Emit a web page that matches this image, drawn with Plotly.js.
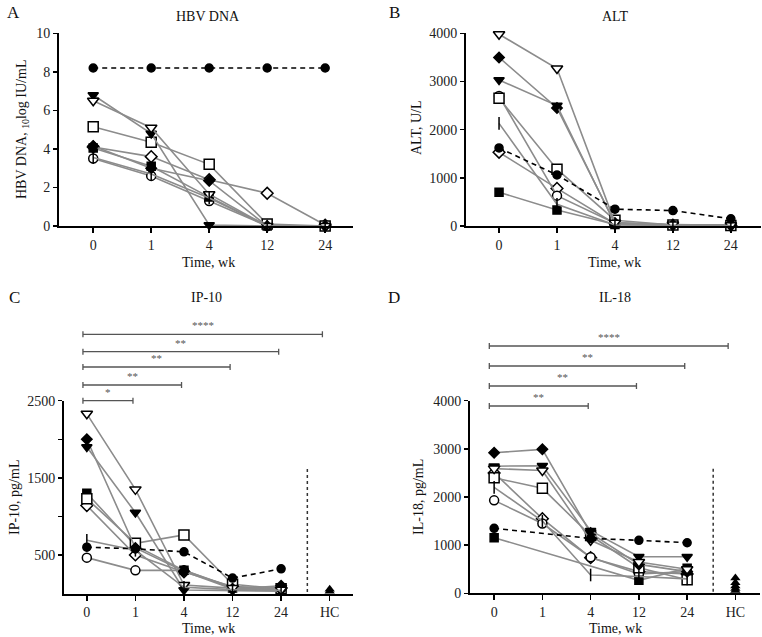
<!DOCTYPE html>
<html><head><meta charset="utf-8">
<script src="https://cdn.plot.ly/plotly-3.0.1.min.js"></script>
<style>html,body{margin:0;padding:0;background:#fff}#chart{width:762px;height:637px}</style>
</head><body><div id="chart"></div>
<script>
// ---------- DATA ----------
const weekLabels = ['0', '1', '4', '12', '24'];
const hcLabel = 'HC';
// Rows = patients: P1 (dashed, filled circle), P2 open circle, P3 filled square,
// P4 open square, P5 filled diamond, P6 open diamond, P7 filled triangle-down,
// P8 open triangle-down, P9 bar marker
const hbvDna = [
  [8.2, 8.2, 8.2, 8.2, 8.2],
  [3.5, 2.6, 1.3, 0, 0],
  [4.05, 3.1, 1.5, 0, 0],
  [5.15, 4.35, 3.2, 0.1, 0],
  [4.15, 3.0, 2.35, 0, 0],
  [4.1, 3.6, 2.4, 1.7, 0.05],
  [6.8, 4.8, 0.05, 0, 0],
  [6.5, 5.1, 1.65, 0, 0],
  [3.55, 2.7, 1.45, 0, 0]
];
const altValues = [
  [1620, 1060, 350, 320, 150],
  [2700, 630, 60, 20, 10],
  [700, 330, 30, 15, 10],
  [2650, 1180, 120, 20, 10],
  [3500, 2450, 60, 20, 10],
  [1530, 780, 50, 20, 10],
  [3030, 2500, 40, 20, 10],
  [3980, 3270, 70, 30, 15],
  [2130, 450, 20, 10, 10]
];
const ip10 = [
  [600, 580, 540, 200, 320],
  [465, 300, 300, 80, 60],
  [1300, 620, 300, 70, 40],
  [1230, 650, 760, 120, 60],
  [2000, 590, 290, 60, 100],
  [1140, 500, 280, 90, 70],
  [1900, 1050, 45, 40, 30],
  [2330, 1350, 110, 70, 50],
  [690, 560, 80, 50, 40]
];
const il18 = [
  [1350, null, 1140, 1100, 1050],
  [1930, 1450, 750, 400, 450],
  [1155, null, null, 270, 520],
  [2400, 2180, 1200, 530, 280],
  [2920, 2990, 1250, 600, 450],
  [2500, 1550, 740, 450, 400],
  [2640, 2650, 1300, 760, 760],
  [2590, 2550, 1100, 650, 500],
  [2200, 1500, 380, 350, 300]
];
const ip10HC = [30, 55];
const il18HC = [60, 100, 150, 220, 320];
const ip10SigTargets = [1, 2, 3, 4, 5];
const ip10SigLabels = ['*', '**', '**', '**', '****'];
const il18SigTargets = [2, 3, 4, 5];
const il18SigLabels = ['**', '**', '**', '****'];

// ---------- STYLE ----------
const FONT = 'Liberation Serif, Times New Roman, serif';
const GRAY = 'rgb(140,140,140)';
const styles = [
  {symbol: 'circle', fill: '#000', size: 8},
  {symbol: 'circle', fill: '#fff', size: 9},
  {symbol: 'square', fill: '#000', size: 8},
  {symbol: 'square', fill: '#fff', size: 10},
  {symbol: 'diamond', fill: '#000', size: 8},
  {symbol: 'diamond', fill: '#fff', size: 9},
  {symbol: 'triangle-down', fill: '#000', size: 9},
  {symbol: 'triangle-down', fill: '#fff', size: 10},
  {symbol: 'line-ns', fill: '#000', size: 9}
];
const drawOrder = [5, 1, 2, 3, 4, 6, 7, 8, 0];

const traces = [];
function addPanel(data, ax) {
  const xs = weekLabels.map((_, i) => i);
  drawOrder.forEach(p => {
    const s = styles[p];
    traces.push({
      x: xs, y: data[p], xaxis: 'x' + ax, yaxis: 'y' + ax,
      type: 'scatter', mode: 'lines+markers', connectgaps: true,
      cliponaxis: false, showlegend: false, hoverinfo: 'skip',
      line: p === 0 ? {color: '#000', width: 1.6, dash: '5px,4px'} : {color: GRAY, width: 1.6},
      marker: {symbol: s.symbol, size: s.size, color: s.fill, line: {color: '#000', width: 1.5}}
    });
  });
}
addPanel(hbvDna, '');
addPanel(altValues, '2');
addPanel(ip10, '3');
addPanel(il18, '4');
// Healthy controls
[[ip10HC, '3'], [il18HC, '4']].forEach(([vals, ax]) => {
  traces.push({
    x: vals.map(() => weekLabels.length), y: vals, xaxis: 'x' + ax, yaxis: 'y' + ax,
    type: 'scatter', mode: 'markers', cliponaxis: false, showlegend: false, hoverinfo: 'skip',
    marker: {symbol: 'triangle-up', size: 9, color: '#000'}
  });
});

// ---------- LAYOUT ----------
const W = 762, H = 637;
const px = v => v / W;
const py = v => 1 - v / H;
const tickStyle = {ticks: 'outside', tickwidth: 1.5, tickcolor: '#000'};
function xAxis(d0, d1, r, anchor, withHC) {
  const n = weekLabels.length + (withHC ? 1 : 0);
  return Object.assign({
    domain: [px(d0), px(d1)], range: r, anchor: anchor,
    tickvals: Array.from({length: n}, (_, i) => i),
    ticktext: withHC ? weekLabels.concat([hcLabel]) : weekLabels,
    showline: true, linecolor: '#000', linewidth: 2, ticklen: 5,
    showgrid: false, zeroline: false,
    tickfont: {family: FONT, size: 14, color: '#222'}, fixedrange: true
  }, tickStyle);
}
function yAxis(top, bot, r, anchor, tv, minorVals) {
  const a = Object.assign({
    domain: [py(bot), py(top)], range: r, anchor: anchor,
    tickvals: tv, ticktext: tv.map(String),
    showline: true, linecolor: '#000', linewidth: 2, ticklen: 4,
    showgrid: false, zeroline: false,
    tickfont: {family: FONT, size: 14, color: '#222'}, fixedrange: true
  }, tickStyle);
  if (minorVals) {
    a.minor = {tickmode: 'array', tickvals: minorVals, ticks: 'outside', ticklen: 4,
      tickwidth: 1.5, tickcolor: '#000', showgrid: false};
  }
  return a;
}

const annotations = [];
const shapes = [];
function txt(x, y, text, size, opts) {
  annotations.push(Object.assign({
    xref: 'paper', yref: 'paper', x: px(x), y: py(y), text: text, showarrow: false,
    font: {family: FONT, size: size, color: '#111'}, xanchor: 'center', yanchor: 'middle'
  }, opts || {}));
}
// panel letters
txt(13, 12, 'A', 17); txt(394, 12, 'B', 17); txt(14, 297, 'C', 17); txt(394, 297, 'D', 17);
// panel titles
txt(208, 17, 'HBV DNA', 14); txt(615, 17, 'ALT', 14);
txt(206, 297, 'IP-10', 14); txt(615, 297, 'IL-18', 14);
// x titles
txt(208, 263, 'Time, wk', 14); txt(614, 263, 'Time, wk', 14);
txt(208, 628, 'Time, wk', 14); txt(615, 628, 'Time, wk', 14);
// y titles
txt(22, 130, 'HBV DNA, <sub>10</sub>log IU/mL', 14, {textangle: -90});
txt(417, 128, 'ALT, U/L', 14, {textangle: -90});
txt(14, 498, 'IP-10, pg/mL', 14, {textangle: -90});
txt(418, 497, 'IL-18, pg/mL', 14, {textangle: -90});

// significance brackets
function brackets(ax, targets, labels, ys, start) {
  targets.forEach((t, i) => {
    const x0 = start, x1 = t === weekLabels.length ? t - 0.15 : t - 0.05;
    const y = py(ys[i]), h = 3 / H;
    shapes.push({
      type: 'path', xref: 'x' + ax, yref: 'paper',
      path: `M${x0},${y - h} L${x0},${y + h} M${x0},${y} L${x1},${y} M${x1},${y - h} L${x1},${y + h}`,
      line: {color: '#555', width: 1.3}
    });
    annotations.push({
      xref: 'x' + ax, yref: 'paper', x: (x0 + x1) / 2, y: y + 1 / H, text: labels[i],
      showarrow: false, yanchor: 'bottom', font: {family: FONT, size: 11, color: '#555'}
    });
  });
}
brackets('3', ip10SigTargets, ip10SigLabels, [400.7, 385, 367, 351.7, 334.3], -0.08);
brackets('4', il18SigTargets, il18SigLabels, [406, 386, 366, 346], -0.1);
// dotted separators before HC
shapes.push({type: 'line', xref: 'x3', yref: 'y3', x0: 4.54, x1: 4.54, y0: 20, y1: 1640,
  line: {color: '#333', width: 1.5, dash: 'dot'}});
shapes.push({type: 'line', xref: 'x4', yref: 'y4', x0: 4.54, x1: 4.54, y0: 30, y1: 2620,
  line: {color: '#333', width: 1.5, dash: 'dot'}});

const layout = {
  width: W, height: H, margin: {l: 0, r: 0, t: 0, b: 0},
  paper_bgcolor: '#fff', plot_bgcolor: 'rgba(0,0,0,0)', showlegend: false,
  font: {family: FONT, color: '#111'},
  xaxis: xAxis(59, 353, [-0.59, 4.48], 'y', false),
  yaxis: yAxis(33.3, 226, [0, 10], 'x', [0, 2, 4, 6, 8, 10]),
  xaxis2: xAxis(466, 761, [-0.57, 4.52], 'y2', false),
  yaxis2: yAxis(33.3, 226, [0, 4000], 'x2', [0, 1000, 2000, 3000, 4000]),
  xaxis3: xAxis(64, 353, [-0.47, 5.48], 'y3', true),
  yaxis3: yAxis(400.7, 593.5, [0, 2500], 'x3', [500, 1500, 2500], [1000, 2000]),
  xaxis4: xAxis(470, 760, [-0.5, 5.51], 'y4', true),
  yaxis4: yAxis(400.7, 593.3, [0, 4000], 'x4', [0, 1000, 2000, 3000, 4000]),
  annotations: annotations, shapes: shapes
};
Plotly.newPlot('chart', traces, layout, {staticPlot: true, displayModeBar: false});
</script></body></html>
